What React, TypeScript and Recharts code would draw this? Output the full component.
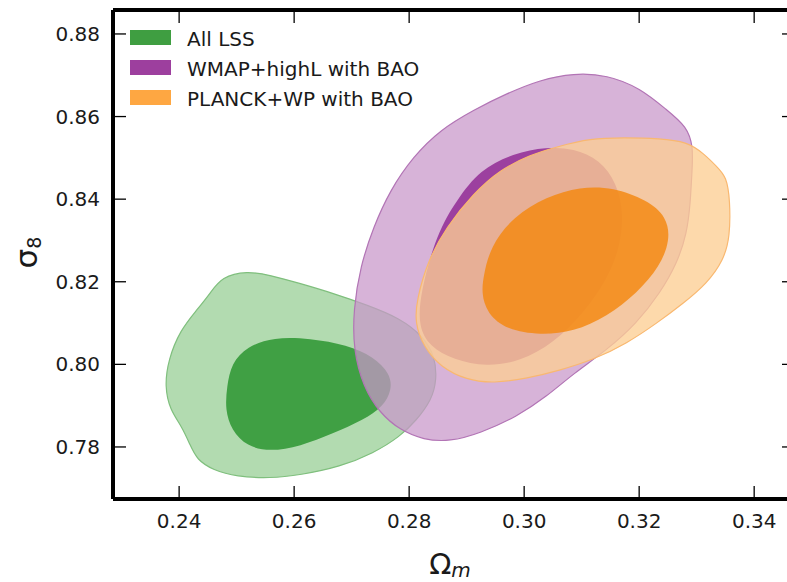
import React from 'react';
import { ScatterChart, Scatter, XAxis, YAxis, Legend, Label } from 'recharts';

const FONT = '"DejaVu Sans", Verdana, sans-serif';

const xTicks = [0.24, 0.26, 0.28, 0.3, 0.32, 0.34];
const yTicks = [0.78, 0.8, 0.82, 0.84, 0.86, 0.88];
const xDomain = [0.2285, 0.3471];
const yDomain = [0.7674, 0.8858];

const legendNames = ['All LSS', 'WMAP+highL with BAO', 'PLANCK+WP with BAO'];
const legendColors = ['#3f9e41', '#9d3f9e', '#fea742'];

// All LSS
const lssOuterOm = [0.2474, 0.2518, 0.2558, 0.2610, 0.2668, 0.2726, 0.2784, 0.2825, 0.2845, 0.2848, 0.2839, 0.2813, 0.2784, 0.2738, 0.2680, 0.2610, 0.2558, 0.2500, 0.2459, 0.2431, 0.2419, 0.2405, 0.2384, 0.2375, 0.2381, 0.2402, 0.2431, 0.2454];
const lssOuterS8 = [0.8212, 0.8226, 0.8216, 0.8196, 0.8172, 0.8144, 0.8112, 0.8067, 0.8019, 0.7962, 0.7914, 0.7865, 0.7825, 0.7785, 0.7752, 0.7732, 0.7724, 0.7728, 0.7744, 0.7769, 0.7805, 0.7849, 0.7890, 0.7946, 0.8011, 0.8083, 0.8132, 0.8172];
const lssInnerOm = [0.2483, 0.2491, 0.2518, 0.2564, 0.2628, 0.2692, 0.2738, 0.2767, 0.2770, 0.2755, 0.2720, 0.2668, 0.2610, 0.2558, 0.2518, 0.2491, 0.2480];
const lssInnerS8 = [0.7946, 0.8003, 0.8043, 0.8066, 0.8063, 0.8047, 0.8019, 0.7978, 0.7938, 0.7898, 0.7865, 0.7833, 0.7801, 0.7789, 0.7801, 0.7841, 0.7890];

// WMAP+highL with BAO
const wmapOuterOm = [0.3086, 0.3144, 0.3202, 0.3248, 0.3283, 0.3294, 0.3292, 0.3289, 0.3283, 0.3266, 0.3236, 0.3196, 0.3144, 0.3086, 0.3039, 0.2987, 0.2923, 0.2871, 0.2825, 0.2784, 0.2749, 0.2720, 0.2703, 0.2703, 0.2715, 0.2738, 0.2767, 0.2807, 0.2854, 0.2912, 0.2970, 0.3028];
const wmapOuterS8 = [0.8705, 0.8701, 0.8669, 0.8616, 0.8576, 0.8527, 0.8471, 0.8390, 0.8317, 0.8245, 0.8172, 0.8100, 0.8035, 0.7978, 0.7922, 0.7873, 0.7833, 0.7813, 0.7817, 0.7841, 0.7882, 0.7946, 0.8035, 0.8132, 0.8237, 0.8333, 0.8422, 0.8503, 0.8568, 0.8616, 0.8656, 0.8689];
const wmapInnerOm = [0.2816, 0.2819, 0.2848, 0.2883, 0.2923, 0.2981, 0.3039, 0.3086, 0.3132, 0.3161, 0.3173, 0.3167, 0.3144, 0.3103, 0.3051, 0.2993, 0.2935, 0.2877, 0.2836];
const wmapInnerS8 = [0.8091, 0.8172, 0.8317, 0.8398, 0.8471, 0.8511, 0.8526, 0.8523, 0.8495, 0.8439, 0.8366, 0.8285, 0.8204, 0.8124, 0.8051, 0.8007, 0.7994, 0.8011, 0.8043];

// PLANCK+WP with BAO
const planckOuterOm = [0.3057, 0.3115, 0.3173, 0.3236, 0.3283, 0.3312, 0.3335, 0.3352, 0.3358, 0.3358, 0.3347, 0.3318, 0.3277, 0.3231, 0.3179, 0.3120, 0.3063, 0.3005, 0.2947, 0.2900, 0.2854, 0.2825, 0.2810, 0.2813, 0.2833, 0.2865, 0.2912, 0.2958, 0.3010];
const planckOuterS8 = [0.8527, 0.8547, 0.8549, 0.8547, 0.8539, 0.8511, 0.8479, 0.8454, 0.8398, 0.8309, 0.8253, 0.8196, 0.8148, 0.8100, 0.8051, 0.8011, 0.7986, 0.7966, 0.7954, 0.7962, 0.7994, 0.8043, 0.8100, 0.8156, 0.8253, 0.8333, 0.8414, 0.8471, 0.8507];
const planckInnerOm = [0.2929, 0.2941, 0.2981, 0.3039, 0.3097, 0.3155, 0.3213, 0.3248, 0.3254, 0.3236, 0.3196, 0.3144, 0.3086, 0.3028, 0.2970, 0.2935, 0.2926];
const planckInnerS8 = [0.8212, 0.8285, 0.8358, 0.8406, 0.8430, 0.8429, 0.8398, 0.8358, 0.8301, 0.8237, 0.8172, 0.8116, 0.8079, 0.8071, 0.8083, 0.8124, 0.8172];

const toPoints = (om: number[], s8: number[]) => om.map((x, i) => ({ x, y: s8[i] }));

// the Planck contours are placed on the twin (top/right) axes, which share the same domains
const contours = [
  { key: 'lssOuter', xa: 'b', ya: 'l', data: toPoints(lssOuterOm, lssOuterS8), fill: '#b2dbb0', fillOpacity: 1, stroke: '#7fbf7d', strokeWidth: 1.2 },
  { key: 'lssInner', xa: 'b', ya: 'l', data: toPoints(lssInnerOm, lssInnerS8), fill: '#40a044', fillOpacity: 1, stroke: 'none', strokeWidth: 0 },
  { key: 'wmapOuter', xa: 'b', ya: 'l', data: toPoints(wmapOuterOm, wmapOuterS8), fill: '#c897c9', fillOpacity: 0.73, stroke: '#b274b5', strokeWidth: 1.2 },
  { key: 'wmapInner', xa: 'b', ya: 'l', data: toPoints(wmapInnerOm, wmapInnerS8), fill: '#9c409f', fillOpacity: 1, stroke: 'none', strokeWidth: 0 },
  { key: 'planckOuter', xa: 't', ya: 'r', data: toPoints(planckOuterOm, planckOuterS8), fill: '#fcce93', fillOpacity: 0.78, stroke: '#f9b870', strokeWidth: 1.2 },
  { key: 'planckInner', xa: 't', ya: 'r', data: toPoints(planckInnerOm, planckInnerS8), fill: '#f38a14', fillOpacity: 0.85, stroke: 'none', strokeWidth: 0 },
];

const noPoint = () => <g />;
const noTick = () => <g />;

const renderLegend = () => (
  <div style={{ position: 'relative', fontFamily: FONT, fontSize: 20, color: '#1a1a1a' }}>
    {legendNames.map((name, i) => (
      <div key={name} style={{ position: 'relative', height: 30, lineHeight: '30px', whiteSpace: 'nowrap' }}>
        <span style={{ position: 'absolute', left: 0, top: 6.3, width: 41, height: 15, background: legendColors[i] }} />
        <span style={{ position: 'absolute', left: 57, top: 0 }}>{name}</span>
      </div>
    ))}
  </div>
);

const XLabel = (props: any) => {
  const vb = props.viewBox || { x: 113, y: 499, width: 682, height: 83 };
  const cx = vb.x + vb.width / 2 - 4;
  return (
    <text x={cx} y={vb.y + 75} textAnchor="middle" fontFamily={FONT} fill="#1a1a1a">
      <tspan fontSize={29}>Ω</tspan>
      <tspan fontSize={20} fontStyle="italic" dy={3}>m</tspan>
    </text>
  );
};

const YLabel = (props: any) => {
  const vb = props.viewBox || { x: 0, y: 10, width: 113, height: 489 };
  const x = vb.x + 37;
  const y = vb.y + vb.height / 2 - 2;
  return (
    <text x={x} y={y} textAnchor="middle" fontFamily={FONT} fill="#1a1a1a" transform={`rotate(-90, ${x}, ${y})`}>
      <tspan fontSize={31}>σ</tspan>
      <tspan fontSize={19} dy={4}>8</tspan>
    </text>
  );
};

const axisLine = { stroke: '#000', strokeWidth: 4 };
const tickLine = { stroke: '#000', strokeWidth: 1.3 };
const tickStyle = { fill: '#1a1a1a', fontSize: 20, fontFamily: FONT };
const fmt = (v: number) => v.toFixed(2);

export default function App() {
  return (
    <div style={{ position: 'absolute', left: 0, top: 0, width: 787, height: 582, overflow: 'hidden', background: '#fff' }}>
      <ScatterChart width={800} height={582} margin={{ top: 9, right: 4, bottom: 0, left: 0 }}>
        <XAxis xAxisId="b" dataKey="x" type="number" orientation="bottom" domain={xDomain} ticks={xTicks} interval={0}
          allowDataOverflow height={83} axisLine={axisLine} tickLine={tickLine} tickSize={-13} tickMargin={28}
          tick={tickStyle} tickFormatter={fmt}>
          <Label content={<XLabel />} />
        </XAxis>
        <XAxis xAxisId="t" dataKey="x" type="number" orientation="top" domain={xDomain} ticks={xTicks} interval={0}
          allowDataOverflow height={1} axisLine={axisLine} tickLine={tickLine} tickSize={-13} tick={noTick} />
        <YAxis yAxisId="l" dataKey="y" type="number" orientation="left" domain={yDomain} ticks={yTicks} interval={0}
          allowDataOverflow width={113} axisLine={axisLine} tickLine={tickLine} tickSize={-13} tickMargin={26}
          tick={tickStyle} tickFormatter={fmt}>
          <Label content={<YLabel />} />
        </YAxis>
        <YAxis yAxisId="r" dataKey="y" type="number" orientation="right" domain={yDomain} ticks={yTicks} interval={0}
          allowDataOverflow width={1} axisLine={axisLine} tickLine={tickLine} tickSize={-13} tick={noTick} />
        {contours.map((c) => (
          <Scatter
            key={c.key}
            name={c.key}
            xAxisId={c.xa}
            yAxisId={c.ya}
            data={c.data}
            fill={c.fill}
            line={{ fill: c.fill, fillOpacity: c.fillOpacity, stroke: c.stroke, strokeWidth: c.strokeWidth }}
            lineType="joint"
            lineJointType="basisClosed"
            shape={noPoint}
            legendType="none"
            isAnimationActive={false}
          />
        ))}
        <Legend layout="vertical" align="center" verticalAlign="middle" wrapperStyle={{ left: 130, top: 23.7, width: 340 }} content={renderLegend} />
      </ScatterChart>
    </div>
  );
}
